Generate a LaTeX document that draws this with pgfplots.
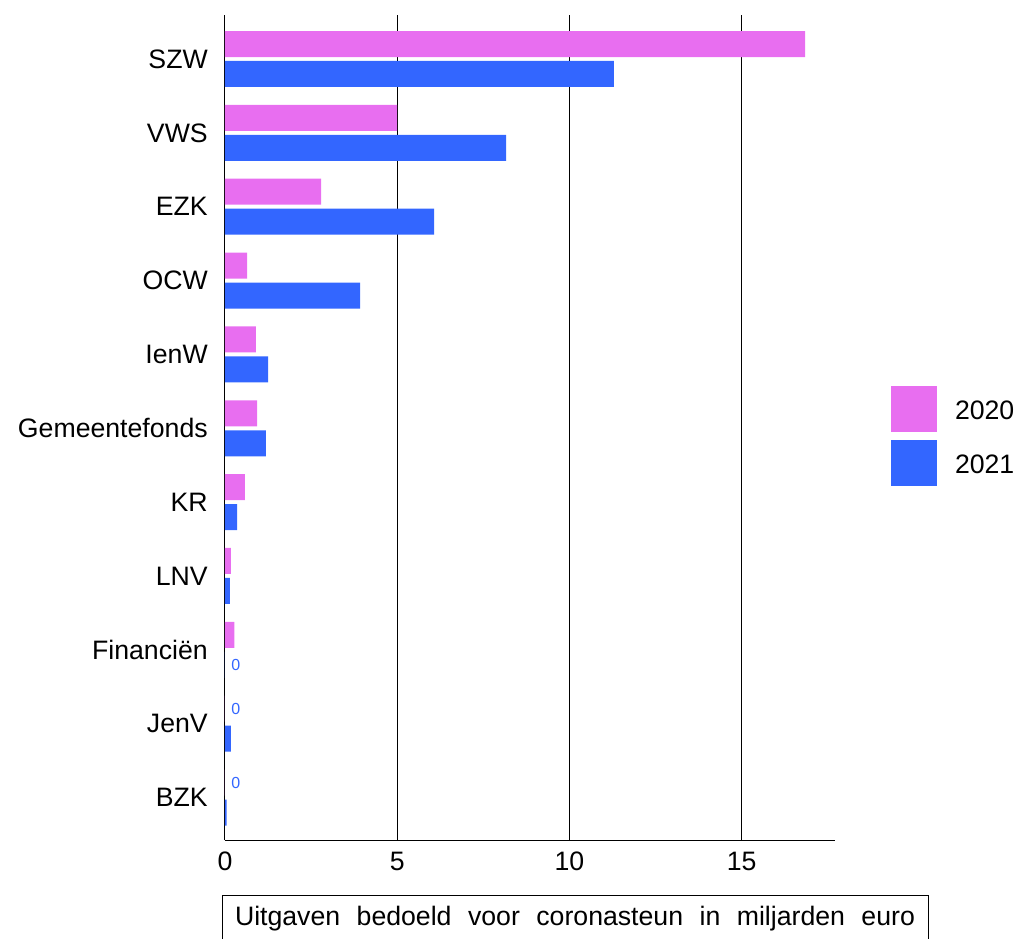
\documentclass[border=0pt]{standalone}
\usepackage{fontspec}
\setmainfont{Liberation Sans}
\usepackage{pgfplots}
\pgfplotsset{compat=1.18}
\definecolor{c2020}{RGB}{232,110,240}
\definecolor{c2021}{RGB}{51,102,255}
\begin{document}
\begin{tikzpicture}
\useasboundingbox (-168.75pt,-73.5pt) rectangle (595.5pt,630pt);
\begin{axis}[
  at={(0pt,0pt)}, anchor=south west,
  scale only axis, width=457.5pt, height=618.75pt,
  xmin=0, xmax=17.71, ymin=-0.575, ymax=10.596,
  /pgf/number format/assume math mode=true,
  axis x line*=bottom, axis y line*=left,
  axis line style={black, line width=0.75pt, -},
  xtick={0,5,10,15}, ytick={0,...,10},
  yticklabels={BZK,JenV,Financiën,LNV,KR,Gemeentefonds,IenW,OCW,EZK,VWS,SZW},
  major tick length=0pt,
  xmajorgrids, major grid style={black, line width=0.75pt},
  tick label style={font=\fontsize{20}{24}\selectfont, text=black},
  xticklabel style={inner sep=0pt, anchor=north, yshift=-9pt},
  yticklabel style={inner sep=0pt, anchor=east, xshift=-12.75pt},
  xbar, bar width=0.352,
  legend cell align=left,
  legend image code/.code={\fill[#1,draw=none] (0pt,-10.05pt) rectangle (34.5pt,24.45pt);},
  legend style={at={(1.0918,0.5503)}, anchor=north west, draw=none, fill=none,
    inner sep=0pt, outer sep=0pt, row sep=3pt, column sep=13.5pt,
    nodes={inner sep=0pt, font=\fontsize{20}{24}\selectfont}},
]
\addplot[draw=none, fill=c2020, bar shift=0.203] coordinates {
  (16.84,10) (5.00,9) (2.79,8) (0.64,7) (0.90,6) (0.93,5) (0.58,4) (0.17,3) (0.27,2) (0,1) (0,0)};
\addlegendentry{\raisebox{11pt}{2020}}
\addplot[draw=none, fill=c2021, bar shift=-0.203] coordinates {
  (11.29,10) (8.16,9) (6.07,8) (3.92,7) (1.25,6) (1.19,5) (0.35,4) (0.14,3) (0,2) (0.17,1) (0.05,0)};
\addlegendentry{\raisebox{11pt}{2021}}
% zero labels
\addplot[forget plot, draw=none, fill=none, bar shift=0.203, point meta=x,
  nodes near coords,
  nodes near coords style={anchor=west, inner sep=0pt, xshift=4.5pt, text=c2021, font=\fontsize{12}{14}\selectfont}]
  coordinates {(0,1) (0,0)};
\addplot[forget plot, draw=none, fill=none, bar shift=-0.203, point meta=x,
  nodes near coords,
  nodes near coords style={anchor=west, inner sep=0pt, xshift=4.5pt, text=c2021, font=\fontsize{12}{14}\selectfont}]
  coordinates {(0,2)};
\end{axis}
\draw[line width=0.75pt] (-2.25pt,-41.25pt) rectangle (527.25pt,-80pt);
\node[anchor=base, font=\fontsize{20}{24}\selectfont, inner sep=0pt] at (262.5pt,-63.75pt)
  {\makebox[510pt][s]{Uitgaven bedoeld voor coronasteun in miljarden euro}};
\end{tikzpicture}
\end{document}
